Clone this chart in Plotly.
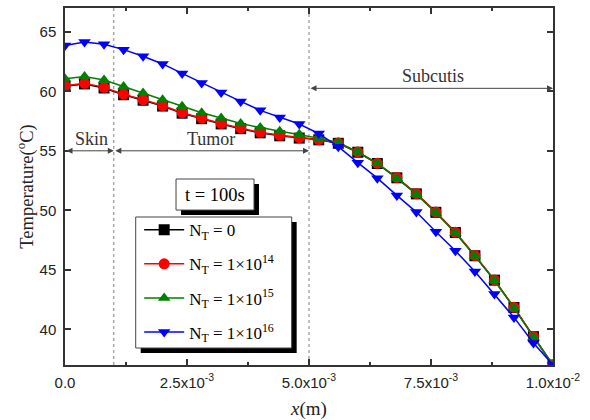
import plotly.graph_objects as go

# Position along depth (m), sampled every 0.4 mm from skin surface to 10 mm
x_mm = [0.0, 0.4, 0.8, 1.2, 1.6, 2.0, 2.4, 2.8, 3.2, 3.6, 4.0, 4.4, 4.8,
        5.2, 5.6, 6.0, 6.4, 6.8, 7.2, 7.6, 8.0, 8.4, 8.8, 9.2, 9.6, 10.0]
x_m = [v * 1e-3 for v in x_mm]

# Temperature (°C) at t = 100 s for each nanoparticle concentration N_T
temp_nt0 = [60.42, 60.62, 60.28, 59.71, 59.25, 58.76, 58.16, 57.70, 57.26, 56.86,
            56.51, 56.26, 56.07, 55.92, 55.63, 54.88, 53.93, 52.73, 51.38, 49.83,
            48.13, 46.18, 44.13, 41.83, 39.38, 37.0]
temp_nt14 = [60.47, 60.67, 60.33, 59.76, 59.30, 58.80, 58.20, 57.74, 57.30, 56.90,
             56.55, 56.30, 56.10, 55.95, 55.65, 54.90, 53.95, 52.75, 51.40, 49.85,
             48.15, 46.20, 44.15, 41.85, 39.40, 37.0]
temp_nt15 = [61.05, 61.25, 60.95, 60.40, 59.85, 59.30, 58.75, 58.20, 57.75, 57.30,
             56.95, 56.65, 56.40, 56.05, 55.70, 54.90, 53.95, 52.70, 51.35, 49.80,
             48.10, 46.15, 44.10, 41.80, 39.35, 37.0]
temp_nt16 = [63.85, 64.15, 63.95, 63.50, 62.95, 62.30, 61.50, 60.70, 59.90, 59.15,
             58.40, 57.80, 57.25, 56.45, 55.35, 54.00, 52.70, 51.25, 49.85, 48.20,
             46.60, 44.85, 42.96, 41.00, 38.85, 37.0]

series_names = ["N<sub>T</sub> = 0",
                "N<sub>T</sub> = 1×10<sup>14</sup>",
                "N<sub>T</sub> = 1×10<sup>15</sup>",
                "N<sub>T</sub> = 1×10<sup>16</sup>"]
series_colors = ["#000000", "#ff0000", "#008000", "#0000ff"]
series_symbols = ["square", "circle", "triangle-up", "triangle-down"]
series_values = [temp_nt0, temp_nt14, temp_nt15, temp_nt16]

x_tickvals = [0.0, 2.5e-3, 5.0e-3, 7.5e-3, 1.0e-2]
x_ticktext = ["0.0", "2.5x10<sup>-3</sup>", "5.0x10<sup>-3</sup>",
              "7.5x10<sup>-3</sup>", "1.0x10<sup>-2</sup>"]
y_tickvals = [40, 45, 50, 55, 60, 65]

# Tissue layer boundaries (m)
skin_end = 1.0e-3
tumor_end = 5.0e-3
depth_end = 1.0e-2

SERIF = "Liberation Serif"
SANS = "Liberation Sans"

fig = go.Figure()
for name, col, sym, vals in zip(series_names, series_colors, series_symbols, series_values):
    fig.add_trace(go.Scatter(
        x=x_m, y=vals, name=name, mode="lines+markers",
        line=dict(color=col, width=1.5),
        marker=dict(symbol=sym, size=11, color=col),
        legendgroup=name,
    ))

# Layer boundary guides
for xb in (skin_end, tumor_end):
    fig.add_shape(type="line", xref="x", yref="paper", x0=xb, x1=xb, y0=0, y1=1,
                  line=dict(color="#808080", width=1, dash="dot"), layer="below")

# Double-headed span arrows for each tissue layer
arrow_color = "#444444"
spans = [(0.0, skin_end, 55.0), (skin_end, tumor_end, 55.0), (tumor_end, depth_end, 60.25)]
for a, b, yv in spans:
    fig.add_annotation(x=b, y=yv, ax=a, ay=yv, xref="x", yref="y", axref="x", ayref="y",
                       text="", showarrow=True, arrowhead=2, arrowside="end+start",
                       arrowsize=1.2, arrowwidth=1, arrowcolor=arrow_color)

labels = [("Skin", 0.55e-3, 55.0), ("Tumor", 3.0e-3, 55.0), ("Subcutis", 7.55e-3, 60.25)]
for txt, xv, yv in labels:
    fig.add_annotation(x=xv, y=yv, xref="x", yref="y", text=txt, showarrow=False,
                       xanchor="center", yanchor="bottom", yshift=0,
                       font=dict(family=SERIF, size=18, color="#333333"))

# Boxes with a solid drop shadow: time label and legend frame
def shadow_box(x0, y0, x1, y1, dx, dy):
    fig.add_shape(type="rect", xref="paper", yref="paper",
                  x0=x0 + dx, x1=x1 + dx, y0=y0 - dy, y1=y1 - dy,
                  fillcolor="black", line=dict(width=0), layer="above")
    fig.add_shape(type="rect", xref="paper", yref="paper",
                  x0=x0, x1=x1, y0=y0, y1=y1,
                  fillcolor="white", line=dict(color="#444444", width=1), layer="above")

pw, ph = 488.0, 357.0
sx, sy = 5 / pw, 5 / ph
shadow_box(0.2275, 0.434, 0.3873, 0.521, sx, sy)
shadow_box(0.1449, 0.0476, 0.4645, 0.4146, sx, sy)

fig.add_annotation(x=(0.2275 + 0.3873) / 2, y=(0.434 + 0.521) / 2, xref="paper", yref="paper",
                   text="t = 100s", showarrow=False, xanchor="center", yanchor="middle",
                   font=dict(family=SERIF, size=18.5, color="black"))

axis_common = dict(showgrid=False, zeroline=False, showline=True, linecolor="#333333",
                   linewidth=1.5, mirror="ticks", ticks="inside", tickcolor="#333333",
                   tickwidth=1.5, ticklen=6, automargin=False,
                   tickfont=dict(family=SANS, size=15, color="#222222"))

fig.update_xaxes(range=[0, depth_end], tickvals=x_tickvals, ticktext=x_ticktext,
                 minor=dict(dtick=1.25e-3, tick0=0, ticks="inside", ticklen=3,
                            tickcolor="#333333", tickwidth=1.5),
                 ticklabelstandoff=3,
                 title=dict(text="<i>x</i>(m)", font=dict(family=SERIF, size=19, color="#222222"),
                            standoff=14),
                 **axis_common)
fig.update_yaxes(range=[37, 67], tickvals=y_tickvals, ticklabelstandoff=4,
                 title=dict(text="Temperature(<sup>o</sup>C)",
                            font=dict(family=SERIF, size=18.5, color="#222222"), standoff=1),
                 **axis_common)

fig.update_layout(
    width=590, height=420,
    margin=dict(l=65, r=37, t=8, b=55),
    plot_bgcolor="white", paper_bgcolor="white",
    showlegend=True,
    legend=dict(x=0.152, y=0.428, xanchor="left", yanchor="top",
                bgcolor="rgba(0,0,0,0)", borderwidth=0,
                traceorder="grouped", tracegroupgap=9,
                font=dict(family=SERIF, size=17, color="black"),
                itemwidth=40),
)

fig.write_html("out.html")
